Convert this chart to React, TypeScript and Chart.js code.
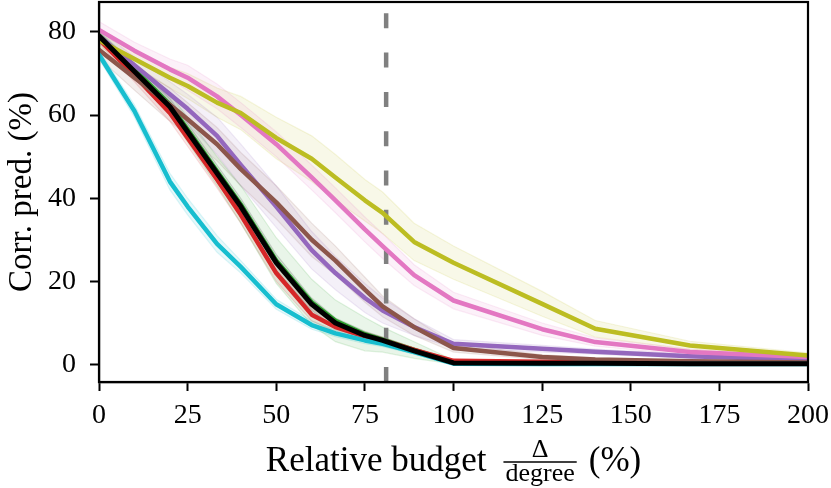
import React, { useEffect, useRef } from "react";
import { Chart, registerables } from "chart.js";
Chart.register(...registerables);

// ---- data ----
const budgetPct = [0, 10, 20, 25, 33.3, 40, 50, 60, 66.7, 75, 80, 88.9, 100, 125, 140, 166.7, 200];

const corrGreen = [79.2, 71, 62.5, 56.5, 46.5, 38.5, 25, 15, 10.5, 7.3, 6, 3.5, 0.6, 0.4, 0.3, 0.3, 0.2];
const corrRed = [78.3, 69.5, 60.5, 54.5, 44.5, 36, 22, 12, 9, 6.8, 5.8, 3.5, 0.9, 0.7, 0.6, 0.5, 0.4];
const corrPurple = [79, 72, 65, 61.5, 55, 48, 38, 27.5, 22, 16, 13, 9, 5, 3.8, 3.1, 2, 1.1];
const corrBrown = [75.7, 69, 62.5, 59, 53, 47, 39, 30, 25, 18, 14, 9, 4, 1.8, 1.2, 0.8, 0.5];
const corrPink = [80.5, 75.5, 71, 69, 64.5, 60, 53, 45, 39.5, 32.5, 28.5, 21.5, 15.4, 8.5, 5.4, 3, 1.8];
const corrOlive = [78, 73.5, 69, 67, 63, 60.5, 54.5, 49.5, 45, 39.5, 36.5, 29.5, 24.5, 14.6, 8.6, 4.6, 2.2];
const corrCyan = [74.5, 61, 44, 38, 29, 23.5, 14.5, 9.5, 7.5, 5.8, 5, 3, 0.2, 0.1, 0.1, 0.1, 0.1];
const corrBlack = [79, 70.5, 62, 56, 46, 38, 24.5, 14.5, 10, 7, 5.8, 3.3, 0.4, 0.3, 0.3, 0.2, 0.2];

const spreadGreen = [1, 1.5, 2.5, 3, 3.5, 4.5, 5.5, 5.5, 5, 4, 3, 2, 0.5, 0.3, 0.2, 0.2, 0.1];
const spreadRed = [1, 1.5, 2, 2, 2, 2, 2, 1.5, 1.2, 1, 0.8, 0.6, 0.3, 0.2, 0.2, 0.1, 0.1];
const spreadPurple = [1.5, 2, 3, 3.5, 4.5, 5, 5, 4.5, 4, 3.5, 3, 2, 1, 0.8, 0.6, 0.5, 0.3];
const spreadBrown = [2, 3, 4, 4, 4, 4, 4, 4, 3.5, 3, 2.5, 2, 1, 0.6, 0.4, 0.3, 0.2];
const spreadPink = [2, 2, 2.5, 3, 3, 3, 3, 3, 3, 3, 3, 2.5, 2, 1.5, 1, 0.7, 0.5];
const spreadOlive = [1.5, 2, 2.5, 3, 3.5, 4, 5, 5.5, 5.5, 5, 5, 4.5, 4, 3, 2, 1, 0.6];
const spreadCyan = [1, 1.5, 2, 2, 2, 1.5, 1.2, 1, 0.8, 0.8, 0.7, 0.5, 0.2, 0.1, 0.1, 0.1, 0.1];
const spreadBlack = [1, 1.5, 2, 2, 2, 2, 2, 1.5, 1.2, 1, 0.8, 0.6, 0.2, 0.1, 0.1, 0.1, 0.1];

const dashedBudget = 81;
const xTicks = [0, 25, 50, 75, 100, 125, 150, 175, 200];
const yTicks = [0, 20, 40, 60, 80];
const X_MIN = 0;
const X_MAX = 200;
const Y_MIN = -4.2;
const Y_MAX = 87.2;

const Y_TITLE = "Corr. pred. (%)";
const X_TITLE_MAIN = "Relative budget";
const X_FRAC_NUM = "\u0394";
const X_FRAC_DEN = "degree";
const X_TITLE_UNIT = "(%)";

const FONT = '"Liberation Serif", "Times New Roman", serif';

function rgba(hex: string, a: number) {
  const n = parseInt(hex.slice(1), 16);
  return `rgba(${(n >> 16) & 255},${(n >> 8) & 255},${n & 255},${a})`;
}

function zeroPad(s: any) {
  s.paddingTop = 0;
  s.paddingBottom = 0;
  s.paddingLeft = 0;
  s.paddingRight = 0;
}

export default function App() {
  const ref = useRef<HTMLCanvasElement>(null);
  useEffect(() => {
    const canvas = ref.current!;
    const series = [
      { color: "#2ca02c", mean: corrGreen, spread: spreadGreen, width: 4.5 },
      { color: "#d62728", mean: corrRed, spread: spreadRed, width: 4.5 },
      { color: "#9467bd", mean: corrPurple, spread: spreadPurple, width: 4.5 },
      { color: "#8c564b", mean: corrBrown, spread: spreadBrown, width: 4.5 },
      { color: "#e377c2", mean: corrPink, spread: spreadPink, width: 4.5 },
      { color: "#bcbd22", mean: corrOlive, spread: spreadOlive, width: 4.5 },
      { color: "#17becf", mean: corrCyan, spread: spreadCyan, width: 4.5 },
      { color: "#000000", mean: corrBlack, spread: spreadBlack, width: 5 },
    ];
    const datasets: any[] = [];
    series.forEach((s) => {
      datasets.push({
        data: budgetPct.map((x, i) => ({ x, y: s.mean[i] - s.spread[i] })),
        borderColor: rgba(s.color, 0.14),
        borderWidth: 1.2,
        pointRadius: 0,
        fill: false,
        order: 100,
      });
      datasets.push({
        data: budgetPct.map((x, i) => ({ x, y: s.mean[i] + s.spread[i] })),
        borderColor: rgba(s.color, 0.14),
        borderWidth: 1.2,
        pointRadius: 0,
        fill: "-1",
        backgroundColor: rgba(s.color, 0.1),
        order: 100,
      });
    });
    datasets.push({
      data: [
        { x: dashedBudget, y: Y_MIN },
        { x: dashedBudget, y: Y_MAX },
      ],
      borderColor: "#808080",
      borderWidth: 4.5,
      borderDash: [15, 24.3],
      borderCapStyle: "butt",
      pointRadius: 0,
      fill: false,
      order: 30,
    });
    series.forEach((s, i) => {
      datasets.push({
        data: budgetPct.map((x, j) => ({ x, y: s.mean[j] })),
        borderColor: s.color,
        borderWidth: s.width,
        borderJoinStyle: "round",
        borderCapStyle: "round",
        pointRadius: 0,
        fill: false,
        order: 10 - i,
      });
    });

    const decor = {
      id: "decor",
      afterDraw(chart: any) {
        const { ctx, chartArea: a } = chart;
        ctx.save();
        ctx.strokeStyle = "#000";
        ctx.lineWidth = 2.2;
        ctx.strokeRect(a.left, a.top, a.right - a.left, a.bottom - a.top);
        ctx.fillStyle = "#000";
        // y title
        ctx.save();
        ctx.font = `33px ${FONT}`;
        ctx.textAlign = "center";
        ctx.textBaseline = "middle";
        ctx.translate(22, (a.top + a.bottom) / 2);
        ctx.rotate(-Math.PI / 2);
        ctx.fillText(Y_TITLE, 0, 0);
        ctx.restore();
        // x title with fraction
        const mainFont = `35px ${FONT}`;
        const fracFont = `26px ${FONT}`;
        ctx.font = mainFont;
        const wMain = ctx.measureText(X_TITLE_MAIN).width;
        const wUnit = ctx.measureText(X_TITLE_UNIT).width;
        ctx.font = fracFont;
        const wDen = ctx.measureText(X_FRAC_DEN).width;
        const wNum = ctx.measureText(X_FRAC_NUM).width;
        const wFrac = Math.max(wDen, wNum) + 4;
        const gap1 = 17;
        const gap2 = 12;
        const total = wMain + gap1 + wFrac + gap2 + wUnit;
        const cx = (a.left + a.right) / 2;
        const x0 = cx - total / 2;
        const base = 471;
        ctx.textBaseline = "alphabetic";
        ctx.textAlign = "left";
        ctx.font = mainFont;
        ctx.fillText(X_TITLE_MAIN, x0, base);
        const fx = x0 + wMain + gap1;
        ctx.font = fracFont;
        ctx.textAlign = "center";
        ctx.fillText(X_FRAC_NUM, fx + wFrac / 2, 457);
        ctx.fillText(X_FRAC_DEN, fx + wFrac / 2, 481);
        ctx.lineWidth = 1.5;
        ctx.beginPath();
        ctx.moveTo(fx, 462);
        ctx.lineTo(fx + wFrac, 462);
        ctx.stroke();
        ctx.textAlign = "left";
        ctx.font = mainFont;
        ctx.fillText(X_TITLE_UNIT, fx + wFrac + gap2, base);
        ctx.restore();
      },
    };

    const chart = new Chart(canvas, {
      type: "line",
      data: { datasets },
      options: {
        animation: false,
        responsive: false,
        layout: { padding: { top: 2, right: 23, left: 0, bottom: 0 } },
        plugins: { legend: { display: false }, tooltip: { enabled: false } },
        scales: {
          x: {
            type: "linear",
            min: X_MIN,
            max: X_MAX,
            afterBuildTicks: (s: any) => {
              s.ticks = xTicks.map((v) => ({ value: v }));
            },
            afterFit: (s: any) => {
              s.height = 106;
              zeroPad(s);
            },
            ticks: {
              font: { family: FONT, size: 28 },
              color: "#000",
              padding: 8,
              maxRotation: 0,
              autoSkip: false,
              callback: (v: any) => String(v),
            },
            grid: { drawOnChartArea: false, tickLength: 9, tickWidth: 2, tickColor: "#000" },
            border: { color: "#000", width: 2.2 },
          },
          y: {
            type: "linear",
            min: Y_MIN,
            max: Y_MAX,
            afterBuildTicks: (s: any) => {
              s.ticks = yTicks.map((v) => ({ value: v }));
            },
            afterFit: (s: any) => {
              s.width = 99;
              zeroPad(s);
            },
            ticks: {
              font: { family: FONT, size: 28 },
              color: "#000",
              padding: 14,
              autoSkip: false,
              callback: (v: any) => String(v),
            },
            grid: { drawOnChartArea: false, tickLength: 9, tickWidth: 2, tickColor: "#000" },
            border: { color: "#000", width: 2.2 },
          },
        },
      },
      plugins: [decor],
    } as any);
    return () => chart.destroy();
  }, []);
  return (
    <div style={{ position: "fixed", left: 0, top: 0, width: 831, height: 488, background: "#fff" }}>
      <canvas ref={ref} width={831} height={488} style={{ display: "block" }} />
    </div>
  );
}
